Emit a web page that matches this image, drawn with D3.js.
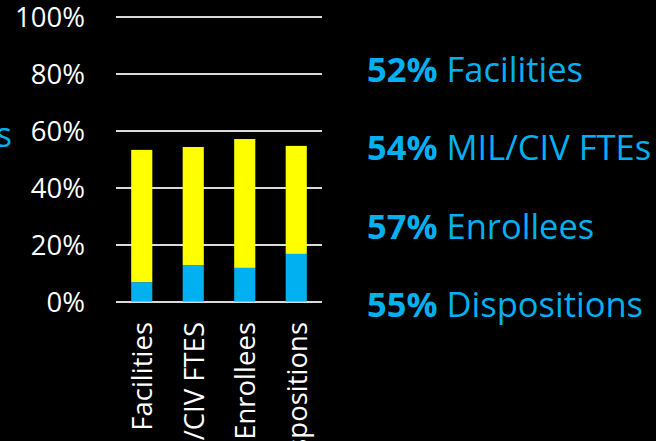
<!DOCTYPE html>
<html><head><meta charset="utf-8">
<script src="https://cdn.jsdelivr.net/npm/d3@7"></script>
<style>html,body{margin:0;padding:0;background:#000;overflow:hidden}</style>
</head><body>
<svg id="c" width="656" height="441"></svg>
<script>
const categories = ["Facilities", "MIL/CIV FTES", "Enrollees", "Dispositions"];
const blueValues = [0.068, 0.128, 0.118, 0.167];
const yellowValues = [0.464, 0.414, 0.452, 0.379];
const tickValues = [0, 0.2, 0.4, 0.6, 0.8, 1.0];
const sidePcts = ["52%", "54%", "57%", "55%"];
const sideNames = ["Facilities", "MIL/CIV FTEs", "Enrollees", "Dispositions"];
const leftFragment = "s";

const FONT = "'Open Sans', 'Liberation Sans', sans-serif";
const BLUE = "#00b0f0", YELLOW = "#ffff00";
const svg = d3.select("#c");
svg.append("rect").attr("width", 656).attr("height", 441).attr("fill", "#000");

const x = d3.scaleBand().domain(categories).range([116, 322]).paddingInner(0.59).paddingOuter(0.295);
const y = d3.scaleLinear().domain([0, 1]).range([301.5, 16.5]);

// grid + y labels
const ax = svg.append("g").attr("transform", "translate(116,0)")
  .call(d3.axisLeft(y).tickValues(tickValues).tickSize(-206).tickPadding(31).tickFormat(d3.format(".0%")));
ax.select(".domain").remove();
ax.selectAll(".tick line").attr("stroke", "#d9d9d9").attr("stroke-width", 2);
ax.selectAll(".tick text").attr("fill", "#fff").attr("dy", "0.36em").style("font-family", FONT).style("font-size", "27.5px");

// stacked bars
const data = categories.map((c, i) => ({c, b: blueValues[i], yv: yellowValues[i]}));
const g = svg.append("g");
g.selectAll(".blue").data(data).join("rect")
  .attr("x", d => x(d.c)).attr("width", x.bandwidth())
  .attr("y", d => y(d.b)).attr("height", d => y(0) - y(d.b)).attr("fill", BLUE);
g.selectAll(".yel").data(data).join("rect")
  .attr("x", d => x(d.c)).attr("width", x.bandwidth())
  .attr("y", d => y(d.b + d.yv)).attr("height", d => y(d.b) - y(d.b + d.yv)).attr("fill", YELLOW);

// x category labels rotated
svg.append("g").selectAll("text").data(categories).join("text")
  .attr("transform", d => `translate(${x(d) + x.bandwidth() / 2 + 10.5},322) rotate(-90)`)
  .attr("text-anchor", "end")
  .attr("fill", "#fff").style("font-family", FONT).style("font-size", "27.5px")
  .text(d => d);

// left cut-off fragment
svg.append("text").attr("x", 12).attr("y", 147).attr("text-anchor", "end")
  .attr("fill", BLUE).style("font-family", FONT).style("font-size", "34px").text(leftFragment);

// right side summary
const side = svg.append("g").selectAll("text").data(sidePcts).join("text")
  .attr("x", 367).attr("y", (d, i) => 82 + i * 78.3)
  .attr("fill", BLUE).style("font-family", FONT).style("font-size", "34.5px");
side.append("tspan").attr("font-weight", "bold").text(d => d);
side.append("tspan").text((d, i) => " " + sideNames[i]);
</script>
</body></html>
